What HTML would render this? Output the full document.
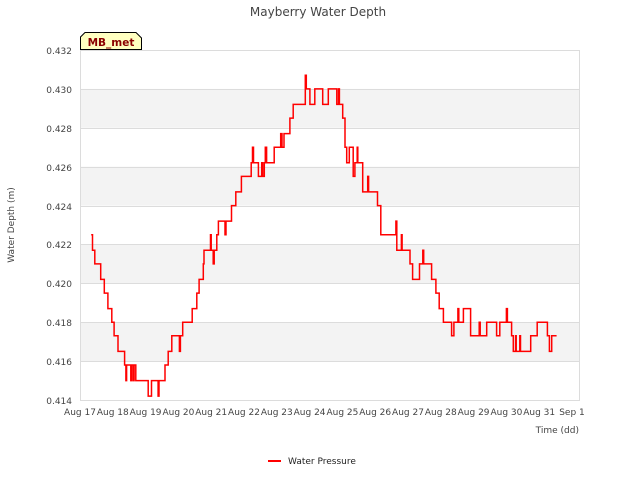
<!DOCTYPE html>
<html><head><meta charset="utf-8"><style>
body{margin:0;background:#fff;font-family:"Liberation Sans","DejaVu Sans",sans-serif}
svg text{font-family:"DejaVu Sans","Liberation Sans",sans-serif}
</style></head><body>
<svg id="c" width="640" height="480" xmlns="http://www.w3.org/2000/svg">
<text x="318" y="16" text-anchor="middle" font-size="12" fill="#444">Mayberry Water Depth</text>
<g id="grid"></g>
<g id="axes"></g>
<path id="line" fill="none" stroke="#ff0000" stroke-width="1.5"/>
<text x="14" y="225" transform="rotate(-90 14 225)" text-anchor="middle" font-size="9" fill="#444">Water Depth (m)</text>
<text x="579" y="433" text-anchor="end" font-size="9" fill="#444">Time (dd)</text>
<g>
<path d="M80.5,49.5 L80.5,37 L85,32.5 L136,32.5 L141.5,38 L141.5,49.5 Z" fill="#ffffc0" stroke="#000"/>
<text x="111" y="46" text-anchor="middle" font-size="10.5" font-weight="bold" fill="#8b0000">MB_met</text>
</g>
<g>
<line x1="268" y1="461" x2="281" y2="461" stroke="#ff0000" stroke-width="2"/>
<text x="288" y="464" font-size="9" fill="#222">Water Pressure</text>
</g>
</svg>
<script>
const times=[0.34,0.38,0.45,0.63,0.74,0.85,0.97,1.04,1.16,1.36,1.40,1.42,1.55,1.57,1.62,1.65,1.70,2.08,2.18,2.38,2.41,2.59,2.69,2.80,3.03,3.06,3.13,3.42,3.56,3.63,3.76,3.78,3.98,4.00,4.06,4.09,4.17,4.22,4.42,4.45,4.62,4.75,4.92,5.22,5.26,5.29,5.44,5.54,5.57,5.62,5.65,5.69,5.92,6.12,6.16,6.22,6.40,6.50,6.87,6.90,7.01,7.16,7.40,7.57,7.83,7.88,7.91,8.01,8.08,8.13,8.21,8.33,8.38,8.45,8.47,8.62,8.77,8.80,9.07,9.17,9.63,9.66,9.80,9.82,10.06,10.14,10.35,10.45,10.48,10.72,10.85,10.95,11.08,11.33,11.40,11.52,11.55,11.69,11.91,12.17,12.20,12.40,12.70,12.80,13.00,13.03,13.16,13.21,13.28,13.30,13.41,13.43,13.74,13.94,14.25,14.31,14.38,14.53];
const values=[.4225,.4217,.4210,.4202,.4195,.4187,.4180,.4173,.4165,.4158,.4150,.4158,.4150,.4158,.4150,.4158,.4150,.4142,.4150,.4142,.4150,.4158,.4165,.4173,.4165,.4173,.4180,.4187,.4195,.4202,.4210,.4217,.4225,.4217,.4210,.4217,.4225,.4232,.4225,.4232,.4240,.4247,.4255,.4262,.4270,.4262,.4255,.4262,.4255,.4262,.4270,.4262,.4270,.4277,.4270,.4277,.4285,.4292,.4307,.4300,.4292,.4300,.4292,.4300,.4292,.4300,.4292,.4285,.4270,.4262,.4270,.4255,.4262,.4270,.4262,.4247,.4255,.4247,.4240,.4225,.4232,.4217,.4225,.4217,.4210,.4202,.4210,.4217,.4210,.4202,.4195,.4187,.4180,.4173,.4180,.4187,.4180,.4187,.4173,.4180,.4173,.4180,.4173,.4180,.4187,.4180,.4173,.4165,.4173,.4165,.4173,.4165,.4173,.4180,.4173,.4165,.4173,.4173];
const yTicks=[0.414,0.416,0.418,0.420,0.422,0.424,0.426,0.428,0.430,0.432];
const xTickLabels=["Aug 17","Aug 18","Aug 19","Aug 20","Aug 21","Aug 22","Aug 23","Aug 24","Aug 25","Aug 26","Aug 27","Aug 28","Aug 29","Aug 30","Aug 31","Sep 1"];
const NS="http://www.w3.org/2000/svg";
const L=80,R=580,T=50,B=400;
const xs=d=>L+d*32.8;
const ys=v=>B-(v-0.414)/(0.018)*(B-T);
const grid=document.getElementById('grid'),axes=document.getElementById('axes');
function mk(tag,attrs,parent){const e=document.createElementNS(NS,tag);for(const k in attrs)e.setAttribute(k,attrs[k]);parent.appendChild(e);return e;}
for(let i=0;i<yTicks.length-1;i++){
 if(i%2===1){const r=mk('rect',{x:L,y:ys(yTicks[i+1]),width:R-L,height:ys(yTicks[i])-ys(yTicks[i+1]),fill:'#f3f3f3'},grid);
 
 }
}
yTicks.forEach(v=>{
 const y=Math.round(ys(v))+0.5;
 const g=mk('line',{x1:L,x2:R,y1:y,y2:y,stroke:'#dcdcdc'},grid);
 
 
 const t=mk('text',{x:72,y:y+3.5,'text-anchor':'end','font-size':9,fill:'#444'},axes);
 t.textContent=v.toFixed(3);
 
 
});
const bx=mk('line',{x1:L+0.5,x2:L+0.5,y1:T,y2:B,stroke:'#dcdcdc'},grid);


const rx=mk('line',{x1:R-0.5,x2:R-0.5,y1:T,y2:B,stroke:'#dcdcdc'},grid);


xTickLabels.forEach((s,i)=>{
 const t=mk('text',{x:xs(i),y:415,'text-anchor':'middle','font-size':9,fill:'#444'},axes);
 t.textContent=s;
 
 
});
let d='';
for(let i=0;i<times.length;i++){
 const x=xs(times[i]).toFixed(1),y=ys(values[i]).toFixed(1);
 if(i===0)d+='M'+x+','+y;else d+='H'+x+'V'+y;
}
document.getElementById('line').setAttribute('d',d);
</script>
</body></html>
